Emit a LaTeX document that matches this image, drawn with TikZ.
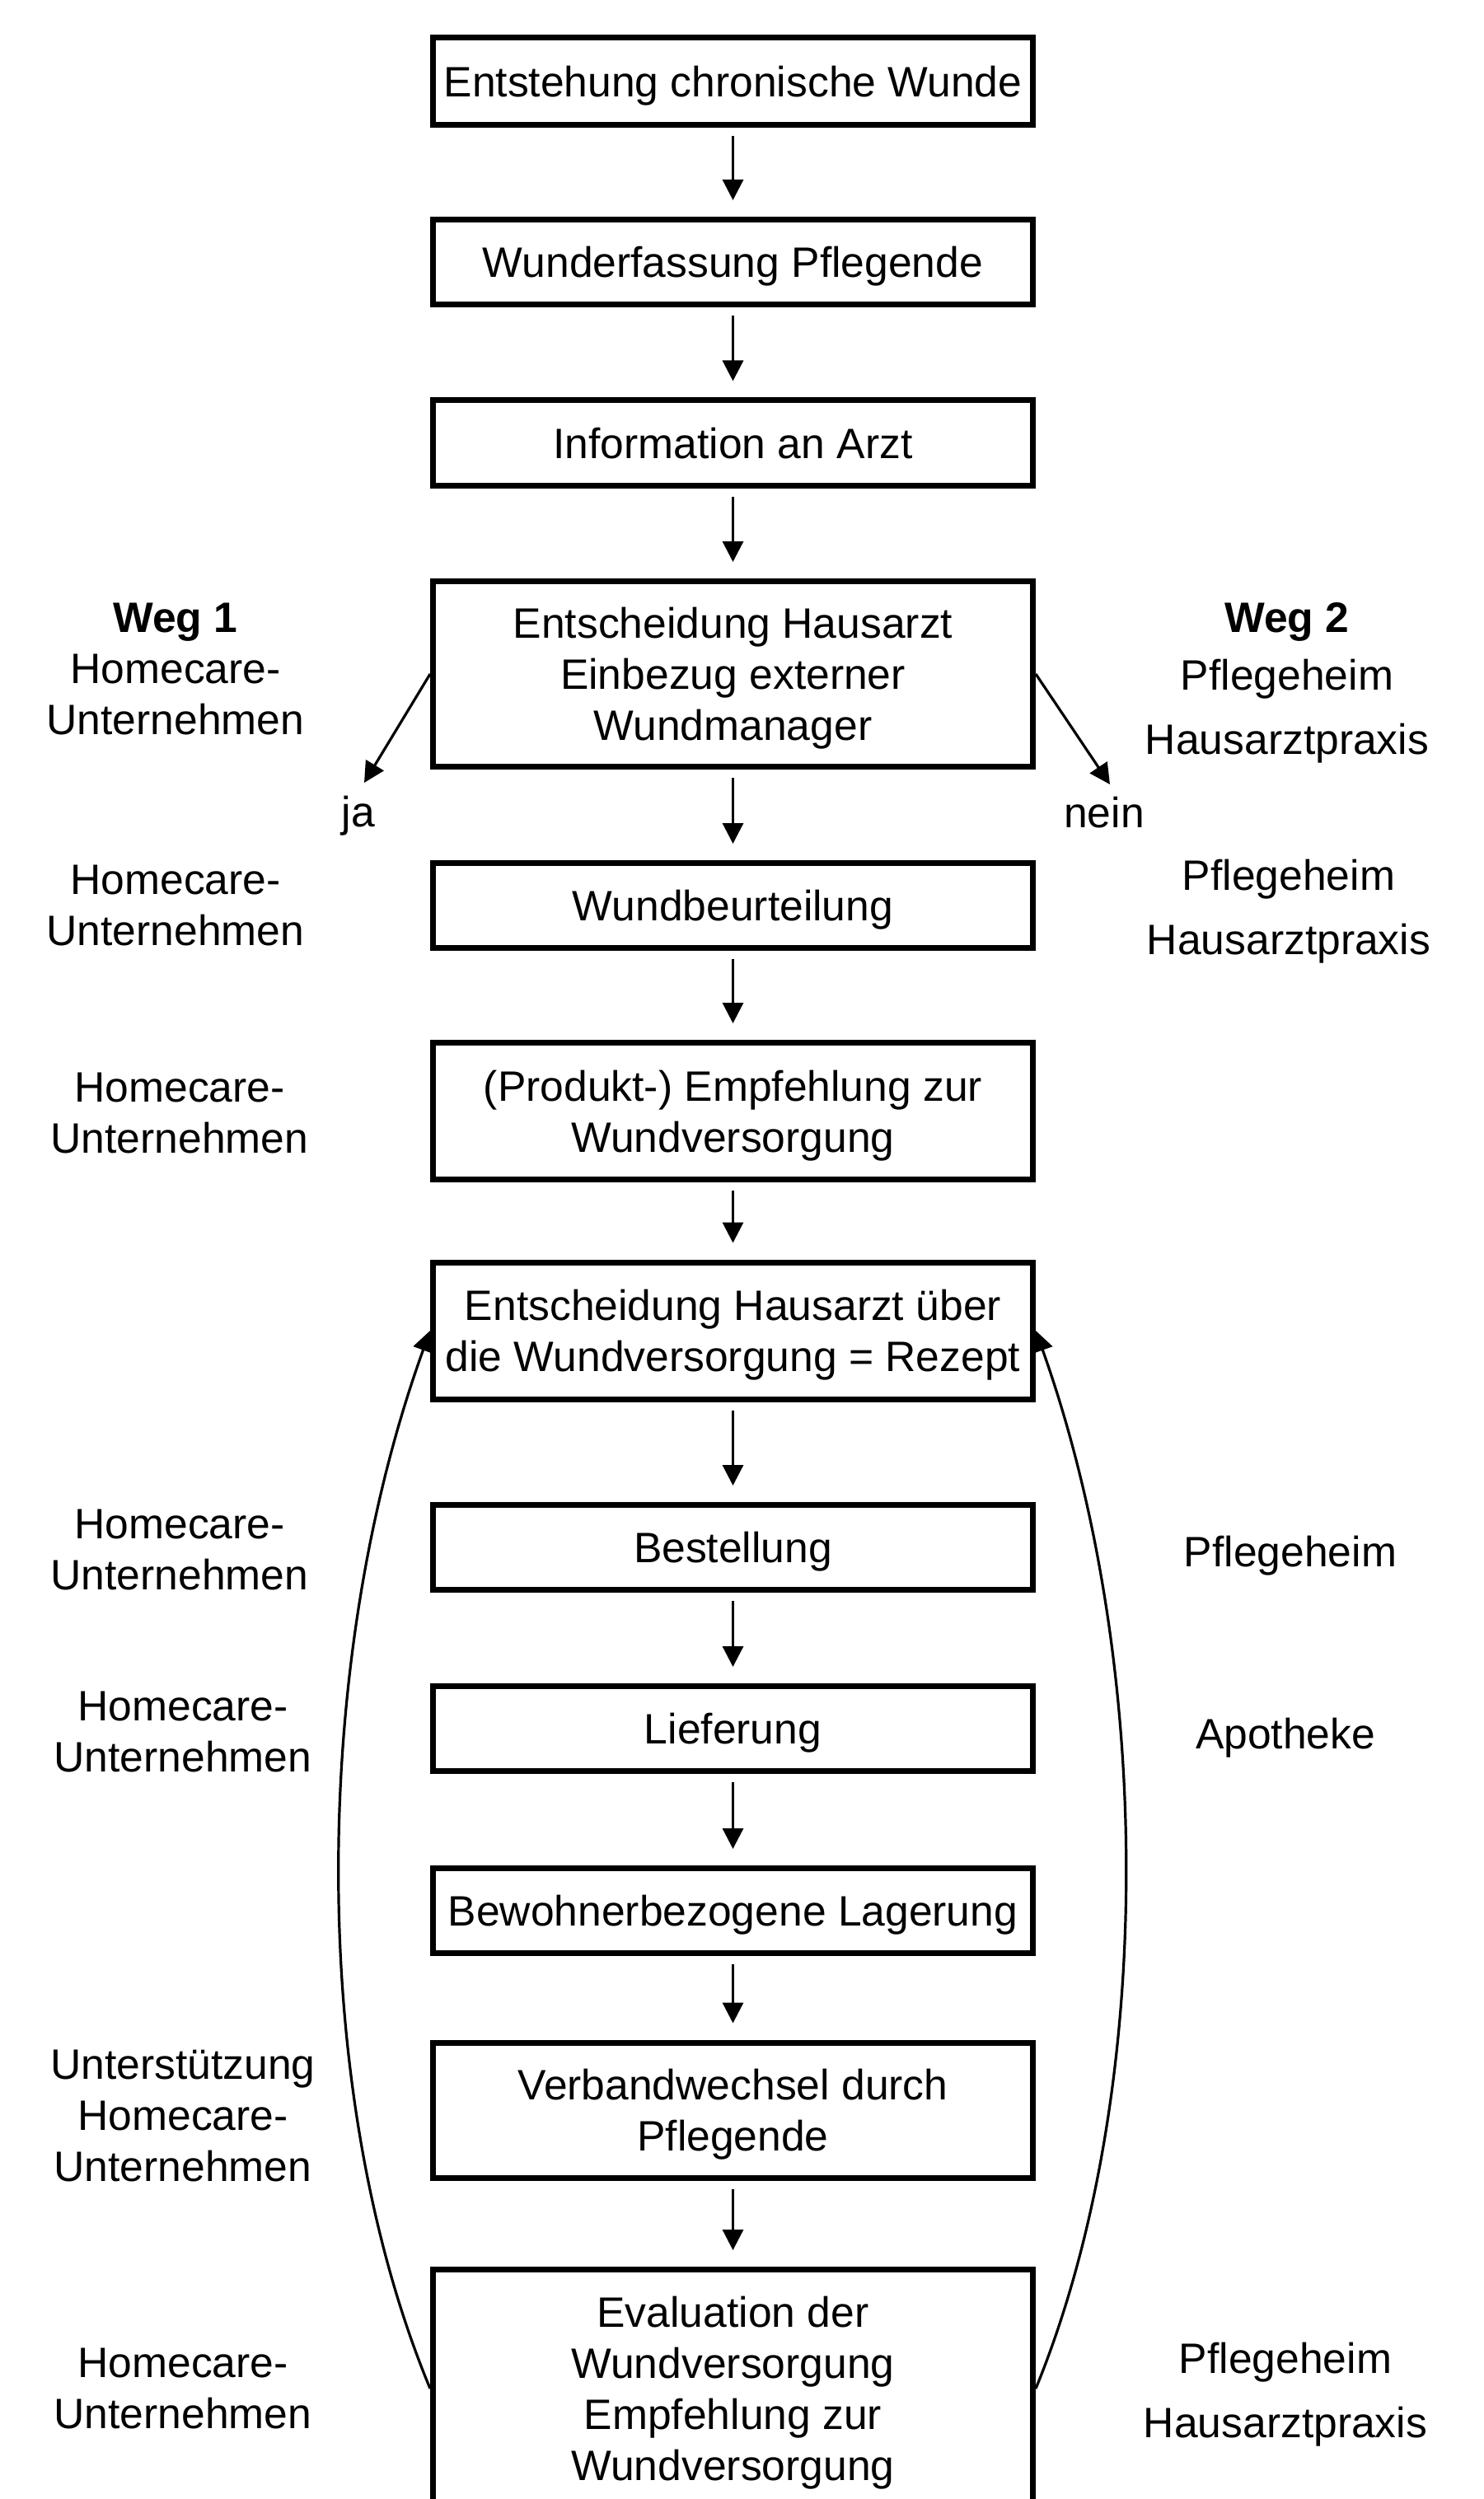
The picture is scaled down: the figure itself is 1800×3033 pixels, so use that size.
\documentclass[tikz,border=0pt]{standalone}
\usepackage{fontspec}
\setmainfont{Liberation Sans}
\usetikzlibrary{arrows.meta}
\begin{document}
\begin{tikzpicture}[x=0.5pt,y=-0.5pt,
  box/.style={draw, line width=3.5pt, minimum width=364pt, align=center,
    font=\fontsize{25.8pt}{31pt}\selectfont, inner sep=0pt, text depth=0pt},
  one/.style={minimum height=51.5pt},
  two/.style={minimum height=83pt},
  lbl/.style={align=center, font=\fontsize{25.8pt}{31pt}\selectfont, inner sep=0pt, text depth=0pt},
  rlbl/.style={align=center, font=\fontsize{25.8pt}{39pt}\selectfont, inner sep=0pt, text depth=0pt},
  arr/.style={-{Triangle[length=12.5pt,width=12.5pt]}, line width=1.6pt},
  flow/.style={arr, shorten <=5pt, shorten >=10pt}]
\useasboundingbox (0,0) rectangle (1800,3033);
\fill[white] (0,0) rectangle (1800,3033);

% main boxes
\node[box, minimum height=53pt] (b1) at (889.5,98.5) {Entstehung chronische Wunde};
\node[box, one] (b2) at (889.5,318) {Wunderfassung Pflegende};
\node[box, one] (b3) at (889.5,537.5) {Information an Arzt};
\node[box, minimum height=112.5pt] (b4) at (889.5,818) {Entscheidung Hausarzt\\Einbezug externer\\Wundmanager};
\node[box, one] (b5) at (889.5,1099) {Wundbeurteilung};
\node[box, two] (b6) at (889.5,1348.5) {(Produkt-) Empfehlung zur\\Wundversorgung};
\node[box, two] (b7) at (889.5,1615) {Entscheidung Hausarzt über\\die Wundversorgung = Rezept};
\node[box, one] (b8) at (889.5,1878) {Bestellung};
\node[box, one] (b9) at (889.5,2098) {Lieferung};
\node[box, one] (b10) at (889.5,2319) {Bewohnerbezogene Lagerung};
\node[box, minimum height=82pt] (b11) at (889.5,2561) {Verbandwechsel durch\\Pflegende};
\node[box, minimum height=144.5pt] (b12) at (889.5,2899) {Evaluation der\\Wundversorgung\\Empfehlung zur\\Wundversorgung};

% vertical flow arrows
\draw[flow] (b1) -- (b2);
\draw[flow] (b2) -- (b3);
\draw[flow] (b3) -- (b4);
\draw[flow] (b4) -- (b5);
\draw[flow] (b5) -- (b6);
\draw[flow] (b6) -- (b7);
\draw[flow] (b7) -- (b8);
\draw[flow] (b8) -- (b9);
\draw[flow] (b9) -- (b10);
\draw[flow] (b10) -- (b11);
\draw[flow] (b11) -- (b12);

% branch arrows
\coordinate (jaend) at (442,950);
\coordinate (neinend) at (1347,952);
\draw[arr] (b4.west) -- (jaend);
\draw[arr] (b4.east) -- (neinend);
\node[lbl] (ja) at (435,985) {ja};
\node[lbl] (nein) at (1340,986) {nein};

% feedback curves
\draw[arr] (b12.west) .. controls (375,2545) and (375,2022) .. (b7.west);
\draw[arr] (b12.east) .. controls (1402,2545) and (1402,2022) .. (b7.east);

% left labels
\node[lbl] (w1) at (213,812) {\textbf{Weg 1}\\Homecare-\\Unternehmen};
\node[lbl] (l1) at (213,1099) {Homecare-\\Unternehmen};
\node[lbl] (l2) at (218,1351) {Homecare-\\Unternehmen};
\node[lbl] (l3) at (218,1881) {Homecare-\\Unternehmen};
\node[lbl] (l4) at (222,2102) {Homecare-\\Unternehmen};
\node[lbl] (l5) at (222,2568) {Unterstützung\\Homecare-\\Unternehmen};
\node[lbl] (l6) at (222,2899) {Homecare-\\Unternehmen};

% right labels
\node[rlbl] (w2) at (1562,823) {\textbf{Weg 2}\\[-4pt]Pflegeheim\\Hausarztpraxis};
\node[rlbl] (r1) at (1564,1101) {Pflegeheim\\Hausarztpraxis};
\node[lbl] (r2) at (1566,1883) {Pflegeheim};
\node[lbl] (r3) at (1560,2104) {Apotheke};
\node[rlbl] (r4) at (1560,2901) {Pflegeheim\\Hausarztpraxis};
\end{tikzpicture}
\end{document}
